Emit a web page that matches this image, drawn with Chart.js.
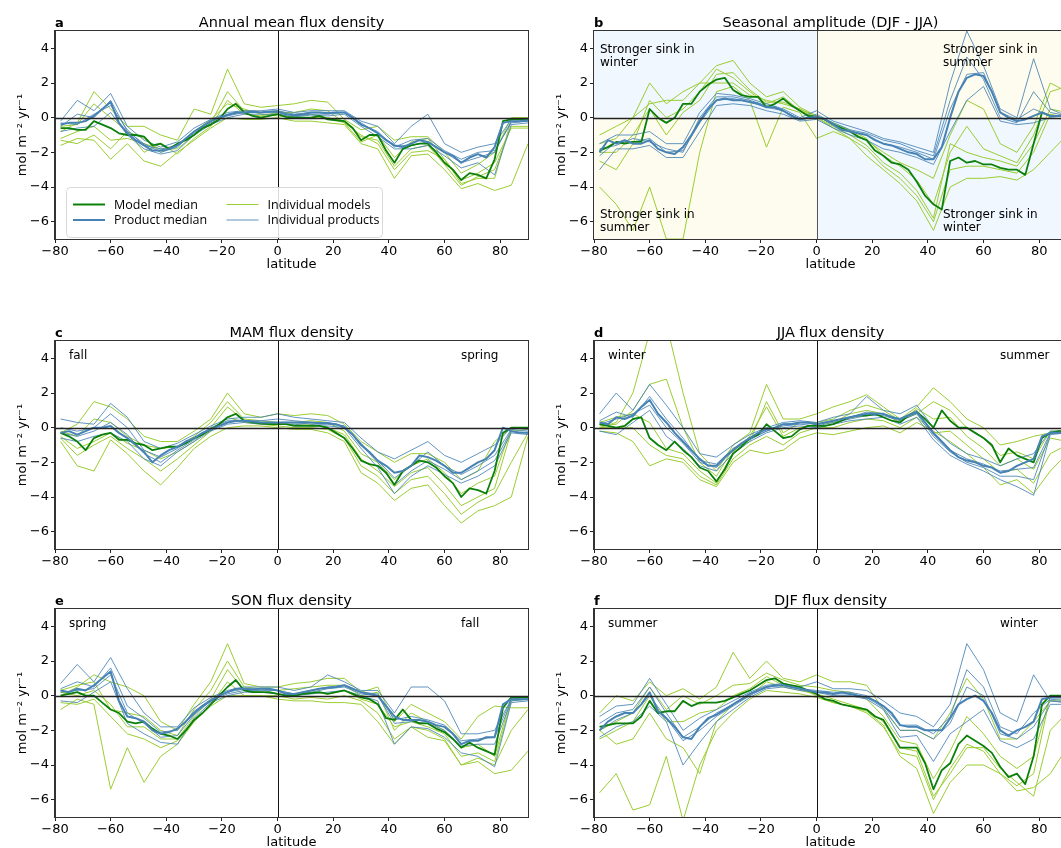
<!DOCTYPE html>
<html>
<head>
<meta charset="utf-8">
<script src="https://cdn.jsdelivr.net/npm/chart.js@4.4.0/dist/chart.umd.min.js"></script>
<style>
  html, body { margin: 0; padding: 0; background: #fff; overflow: hidden; width: 1061px; height: 848px; }
  canvas { position: absolute; }
</style>
</head>
<body>
<canvas id="pa" width="540" height="280" style="left:0px;top:0px"></canvas>
<canvas id="pb" width="540" height="280" style="left:539px;top:0px"></canvas>
<canvas id="pc" width="540" height="280" style="left:0px;top:310px"></canvas>
<canvas id="pd" width="540" height="280" style="left:539px;top:310px"></canvas>
<canvas id="pe" width="540" height="280" style="left:0px;top:578px"></canvas>
<canvas id="pf" width="540" height="280" style="left:539px;top:578px"></canvas>
<script>
// latitude grids: medians every 3 degrees, individual runs every 6 degrees
const LAT_MED = [-78,-75,-72,-69,-66,-63,-60,-57,-54,-51,
  -48,-45,-42,-39,-36,-33,-30,-27,-24,-21,
  -18,-15,-12,-9,-6,-3,0,3,6,9,
  12,15,18,21,24,27,30,33,36,39,
  42,45,48,51,54,57,60,63,66,69,
  72,75,78,81,84,87,90];
const LAT_IND = [-78,-72,-66,-60,-54,-48,-42,-36,-30,-24,
  -18,-12,-6,0,6,12,18,24,30,36,
  42,48,54,60,66,72,78,84,90];
const X_TICKS = [-80,-60,-40,-20,0,20,40,60,80];
const Y_TICKS = [-6,-4,-2,0,2,4];

// a - annual mean
const A_MODEL_MED = [-0.6,-0.6,-0.7,-0.7,-0.2,-0.4,-0.6,-0.9,-1.0,-1.0,
  -1.1,-1.6,-1.5,-1.8,-1.5,-1.3,-1.0,-0.6,-0.4,-0.1,
  0.5,0.8,0.3,0.1,0.0,0.1,0.2,0.05,0.0,0.0,
  0.0,0.1,-0.1,-0.15,-0.2,-0.6,-1.3,-1.0,-1.0,-1.9,
  -2.6,-1.8,-1.6,-1.5,-1.5,-2.0,-2.6,-3.0,-3.6,-3.2,
  -3.3,-3.5,-2.4,-0.2,-0.1,-0.1,-0.1];
const A_PRODUCT_MED = [-0.4,-0.3,-0.3,-0.2,0.1,0.5,0.9,-0.3,-0.9,-1.3,
  -1.6,-1.9,-1.9,-1.8,-1.6,-1.2,-0.8,-0.5,-0.2,0.0,
  0.15,0.3,0.3,0.35,0.3,0.35,0.35,0.2,0.15,0.2,
  0.3,0.3,0.25,0.3,0.3,0.0,-0.4,-0.6,-0.9,-1.3,
  -1.6,-1.7,-1.5,-1.3,-1.4,-1.7,-2.0,-2.2,-2.6,-2.3,
  -2.1,-2.3,-1.7,-0.3,-0.2,-0.2,-0.15];
const A_MODELS = [
  [-0.8,-0.3,1.5,0.5,-0.5,-0.5,-1.0,-1.3,0.5,0.2, 2.8,0.8,0.6,0.7,0.8,1.0,0.9,-0.1,-0.7,-0.5, -1.3,-1.1,-1.1,-2.0,-3.2,-2.7,-2.0,0.0,0.0],
  [-1.6,-1.2,-1.3,-2.4,-1.5,-2.5,-2.8,-2.0,-1.3,-0.6, 0.0,-0.1,-0.1,0.0,-0.2,-0.2,-0.3,-0.4,-1.5,-1.8, -3.5,-2.2,-2.1,-3.0,-4.1,-3.8,-4.2,-3.9,-1.5],
  [-1.2,-0.8,-0.5,-1.3,-1.2,-1.5,-1.8,-1.8,-1.0,-0.3, 1.5,0.4,0.3,0.4,0.1,0.2,0.0,-0.2,-1.1,-1.3, -2.8,-1.8,-1.6,-2.7,-3.9,-3.4,-3.0,-0.5,-0.5],
  [-0.5,-0.4,0.8,0.0,-0.8,-1.2,-2.0,-1.6,-0.8,-0.1, 0.8,0.5,0.2,0.1,0.0,0.0,0.0,-0.3,-1.4,-1.0, -2.3,-1.4,-1.2,-2.4,-3.8,-3.5,-3.5,-0.1,-0.1],
  [-1.3,-1.5,-1.0,-1.8,-0.8,-2.0,-1.5,-2.1,-1.2,-0.5, 1.0,0.2,0.1,0.3,0.3,0.5,0.4,-0.3,-1.0,-1.5, -3.0,-2.0,-1.9,-2.4,-3.6,-3.2,-2.6,-0.6,-0.6]
];
const A_PRODUCTS = [
  [-0.2,1.0,0.4,1.4,-0.5,-1.3,-1.7,-1.4,-0.6,-0.1, 0.3,0.4,0.4,0.5,0.3,0.4,0.4,0.4,-0.2,-0.5, -1.5,-0.5,0.2,-1.5,-2.0,-1.7,-1.5,-0.1,-0.1],
  [-0.8,-0.6,-0.5,0.3,-1.0,-1.8,-2.1,-1.9,-1.0,-0.4, 0.0,0.2,0.2,0.2,0.05,0.15,0.1,0.2,-0.5,-1.1, -1.8,-1.8,-1.6,-2.2,-2.9,-2.6,-3.3,-0.4,-0.3],
  [-0.5,0.2,0.0,1.0,-0.8,-1.5,-2.0,-1.7,-0.8,-0.2, 0.2,0.3,0.3,0.4,0.2,0.3,0.3,0.3,-0.4,-0.8, -1.7,-1.3,-1.2,-1.9,-2.4,-2.0,-1.9,-0.3,-0.2],
  [-0.3,-0.4,0.2,0.7,-0.7,-1.6,-1.8,-1.6,-0.9,-0.3, 0.1,0.3,0.3,0.3,0.1,0.2,0.2,0.3,-0.3,-0.9, -1.6,-1.6,-1.4,-2.0,-2.6,-2.3,-2.0,-0.2,-0.2]
];

// b - seasonal amplitude (DJF - JJA)
const B_MODEL_MED = [-1.9,-1.7,-1.4,-1.5,-1.4,-1.4,0.5,0.0,-0.3,0.0,
  0.8,0.8,1.5,1.9,2.2,2.3,1.6,1.3,1.2,1.2,
  0.6,0.8,1.1,0.7,0.4,0.1,0.05,-0.1,-0.4,-0.6,
  -0.8,-1.1,-1.3,-1.9,-2.2,-2.6,-2.7,-3.0,-3.7,-4.5,
  -5.0,-5.3,-2.5,-2.3,-2.6,-2.5,-2.7,-2.7,-2.9,-3.0,
  -3.0,-3.3,-1.5,0.3,0.1,0.1,0.1];
const B_PRODUCT_MED = [-2.0,-1.3,-1.5,-1.3,-1.5,-1.5,-1.3,-1.8,-2.0,-2.1,
  -1.7,-1.0,-0.2,0.5,1.0,1.1,1.0,1.0,0.9,0.8,
  0.6,0.6,0.4,0.1,-0.1,0.0,0.05,-0.1,-0.4,-0.7,
  -0.8,-0.9,-1.0,-1.3,-1.5,-1.6,-1.8,-2.0,-2.1,-2.4,
  -2.4,-1.7,0.0,1.5,2.3,2.5,2.4,1.5,0.3,0.0,
  -0.2,-0.1,0.1,0.3,0.1,0.1,0.1];
const B_MODELS = [
  [-1.0,-0.5,0.0,2.0,0.8,1.5,2.0,3.0,3.3,2.0, 1.2,1.5,0.6,0.1,-0.4,-0.8,-1.3,-2.0,-2.6,-3.0, -3.5,-1.0,1.0,0.5,-1.5,-2.0,-0.5,2.0,1.5],
  [-4.0,-5.0,-6.5,-4.0,-7.0,-7.0,-2.0,1.5,1.8,1.0, -1.7,0.6,0.3,-1.2,-0.8,-1.2,-2.2,-3.0,-3.8,-4.8, -6.5,-4.0,-3.5,-3.5,-3.4,-3.6,-3.0,-2.0,-1.0],
  [-2.0,-2.0,-1.0,0.5,-1.0,0.3,1.0,2.5,2.6,1.6, 0.9,0.9,0.5,0.0,-0.5,-1.0,-1.6,-2.6,-3.2,-4.2, -5.8,-1.5,-2.0,-2.3,-2.5,-2.8,-1.5,0.5,0.3],
  [-2.5,-3.0,-1.5,1.0,0.0,0.5,1.5,2.8,2.3,1.5, 0.8,1.2,0.4,0.0,-0.6,-1.2,-1.8,-2.8,-3.5,-4.5, -6.0,-3.0,-2.8,-2.8,-3.0,-3.2,-2.0,0.2,0.0],
  [-1.5,-1.2,0.0,0.8,1.0,1.0,2.0,2.0,2.0,1.3, 1.0,0.8,0.5,0.1,-0.3,-0.7,-1.2,-2.2,-2.8,-3.6, -5.0,-2.0,-0.5,-1.8,-2.2,-2.6,-1.0,1.5,1.8]
];
const B_PRODUCTS = [
  [-1.5,-1.0,-1.0,-0.8,-1.5,-1.5,0.3,1.4,1.3,1.1, 0.8,0.5,0.0,0.4,-0.2,-0.5,-0.8,-1.2,-1.4,-1.7, -2.0,2.0,5.0,3.0,0.5,0.0,3.4,0.5,0.1],
  [-3.0,-1.8,-1.8,-1.6,-2.3,-2.3,-0.8,0.7,0.8,0.7, 0.4,0.2,-0.2,-0.1,-0.6,-1.0,-1.3,-1.8,-2.0,-2.3, -2.7,-0.8,1.0,1.8,-0.2,-0.4,-0.3,0.0,-0.1],
  [-2.2,-1.4,-1.4,-1.2,-2.0,-1.9,-0.3,1.0,1.1,0.9, 0.6,0.4,-0.1,0.1,-0.4,-0.8,-1.0,-1.5,-1.7,-2.0, -2.4,0.5,2.5,2.6,0.3,-0.1,0.5,0.1,0.1],
  [-1.8,-1.6,-1.2,-1.4,-1.8,-2.0,0.0,1.2,1.2,1.0, 0.7,0.4,-0.1,0.2,-0.3,-0.7,-0.9,-1.3,-1.5,-1.9, -2.2,1.0,3.5,2.2,0.0,-0.3,1.5,0.3,0.1]
];

// c - MAM
const C_MODEL_MED = [-0.3,-0.5,-0.8,-1.3,-0.6,-0.4,-0.3,-0.7,-0.7,-0.9,
  -1.0,-1.3,-1.2,-1.1,-1.1,-0.9,-0.6,-0.4,-0.1,0.2,
  0.6,0.8,0.4,0.3,0.25,0.2,0.2,0.2,0.1,0.1,
  0.1,0.1,0.0,-0.3,-0.6,-1.2,-1.9,-2.1,-2.2,-2.6,
  -3.3,-2.5,-2.2,-1.9,-2.0,-2.3,-2.8,-3.2,-4.0,-3.5,
  -3.6,-3.8,-2.5,-0.3,0.0,0.0,0.0];
const C_PRODUCT_MED = [-0.3,-0.2,-0.4,-0.2,0.0,0.0,0.1,-0.3,-0.6,-1.0,
  -1.4,-2.0,-1.6,-1.3,-1.1,-0.8,-0.6,-0.3,-0.1,0.1,
  0.3,0.4,0.4,0.35,0.3,0.3,0.3,0.3,0.3,0.3,
  0.3,0.25,0.25,0.2,0.0,-0.4,-1.0,-1.4,-1.9,-2.2,
  -2.6,-2.5,-2.2,-1.6,-1.7,-1.9,-2.2,-2.6,-2.6,-2.3,
  -2.0,-1.8,-1.3,0.0,-0.2,-0.3,-0.3];
const C_MODELS = [
  [-0.3,0.2,1.5,1.2,0.5,-0.5,-0.8,-0.8,-0.2,0.5, 2.0,0.8,0.6,0.8,0.7,0.8,0.7,0.2,-0.8,-1.4, -2.0,-1.5,-1.5,-2.0,-3.0,-2.5,-0.8,0.0,0.0],
  [-0.8,-2.2,-2.5,-0.7,-1.5,-2.5,-3.3,-2.3,-1.2,-0.5, 0.0,0.1,0.1,0.0,-0.1,-0.1,-0.3,-0.8,-2.6,-3.2, -4.2,-3.5,-3.3,-4.5,-5.5,-4.8,-4.5,-4.0,-0.5],
  [-0.5,-1.2,-0.8,-0.3,-0.9,-1.3,-1.8,-1.4,-0.8,0.0, 1.2,0.4,0.3,0.2,0.2,0.2,0.0,-0.4,-1.8,-2.5, -3.4,-2.6,-2.3,-3.3,-4.5,-4.0,-3.5,-0.2,-0.1],
  [-0.2,-0.5,0.5,0.3,-0.5,-1.0,-1.2,-1.1,-0.5,0.3, 1.5,0.5,0.4,0.3,0.3,0.4,0.3,-0.2,-1.5,-2.0, -3.0,-2.2,-1.8,-2.6,-3.8,-3.2,-2.8,0.0,0.0],
  [-0.6,-1.6,-1.0,-0.5,-1.2,-1.8,-2.5,-1.8,-1.0,-0.2, 0.6,0.3,0.2,0.1,0.0,0.0,-0.1,-0.6,-2.2,-2.8, -3.8,-3.0,-2.8,-3.8,-5.0,-4.3,-3.8,-2.0,-0.3]
];
const C_PRODUCTS = [
  [0.5,0.3,0.2,1.4,0.6,-0.8,-1.2,-0.9,-0.4,0.1, 0.5,0.6,0.6,0.8,0.6,0.5,0.4,0.3,-0.6,-1.4, -1.8,-1.3,-0.8,-1.6,-2.0,-1.5,-1.0,0.0,-0.1],
  [-0.6,-0.8,-0.5,-0.3,-0.8,-1.8,-2.2,-1.4,-0.8,-0.2, 0.2,0.3,0.2,0.2,0.2,0.1,0.1,0.0,-1.2,-2.3, -3.8,-2.8,-2.2,-2.7,-3.2,-2.8,-2.2,-0.3,-0.4],
  [0.0,-0.2,0.0,0.8,0.0,-1.3,-1.7,-1.2,-0.6,0.0, 0.4,0.4,0.4,0.5,0.4,0.3,0.3,0.1,-0.9,-1.9, -2.9,-2.2,-1.4,-2.2,-2.7,-2.2,-1.6,-0.1,-0.2],
  [-0.3,-0.5,-0.2,0.3,-0.4,-1.5,-2.0,-1.3,-0.7,-0.1, 0.3,0.4,0.3,0.3,0.3,0.2,0.2,0.1,-1.0,-2.0, -3.3,-2.5,-1.9,-2.4,-3.0,-2.5,-1.9,-0.2,-0.3]
];

// d - JJA
const D_MODEL_MED = [0.2,0.1,0.0,0.1,0.5,0.6,-0.6,-1.0,-1.3,-0.8,
  -1.3,-1.7,-2.3,-2.5,-3.1,-2.4,-1.5,-1.1,-0.6,-0.4,
  0.2,-0.2,-0.6,-0.5,-0.1,0.1,0.1,0.1,0.2,0.4,
  0.6,0.7,0.7,0.8,0.6,0.4,0.3,0.7,0.9,0.5,
  0.0,1.0,0.4,0.0,0.0,-0.3,-0.6,-1.0,-2.0,-1.2,
  -1.6,-1.8,-2.0,-0.6,-0.3,-0.2,-0.2];
const D_PRODUCT_MED = [0.3,0.2,0.6,0.5,0.7,1.2,1.6,0.8,0.3,-0.3,
  -0.8,-1.3,-1.8,-2.2,-2.2,-1.7,-1.3,-0.9,-0.6,-0.3,
  -0.1,0.0,0.2,0.2,0.3,0.3,0.2,0.3,0.4,0.5,
  0.6,0.7,0.8,0.8,0.8,0.6,0.5,0.7,0.9,0.3,
  -0.3,-0.8,-1.3,-1.7,-1.9,-2.0,-2.2,-2.3,-2.6,-2.5,
  -2.2,-2.0,-1.8,-0.5,-0.3,-0.3,-0.25];
const D_MODELS = [
  [0.0,0.3,2.0,5.5,6.0,2.0,-1.5,-2.5,-1.0,-0.3, 2.5,0.5,0.5,0.8,1.2,1.5,1.9,1.2,0.5,1.2, 2.3,1.5,0.5,0.0,-1.0,-0.8,-0.5,-0.3,-0.3],
  [-0.2,-0.3,-0.8,-2.2,-1.8,-2.0,-3.0,-3.4,-2.0,-1.3, -1.5,-1.3,-0.6,-0.3,-0.4,-0.2,0.0,0.1,-0.3,0.3, -0.2,-0.8,-1.5,-2.3,-3.3,-3.0,-3.8,-2.5,-1.5],
  [0.3,0.6,0.8,0.3,-1.2,-1.5,-2.5,-3.2,-1.4,-0.5, 1.2,-0.5,0.0,0.2,0.3,0.8,1.0,0.8,0.3,1.1, 0.5,0.6,-0.5,-1.2,-2.2,-1.8,-2.4,-0.6,-0.8],
  [0.1,0.2,1.0,2.5,2.8,0.0,-2.0,-2.8,-1.2,-0.8, 1.5,-0.3,0.3,0.3,0.5,1.0,1.3,1.0,0.4,0.8, 1.5,1.0,0.0,-0.6,-1.6,-1.4,-1.8,-0.2,-0.2],
  [0.0,0.0,0.0,-1.0,-1.6,-1.8,-2.8,-3.3,-1.8,-1.0, -0.5,-1.0,-0.3,0.0,0.0,0.3,0.5,0.4,0.0,0.6, -0.3,-0.2,-1.0,-1.8,-2.6,-2.4,-3.2,-1.5,-1.0]
];
const D_PRODUCTS = [
  [0.8,2.0,1.0,2.5,1.3,0.0,-1.5,-1.7,-1.0,-0.4, 0.0,0.3,0.4,0.3,0.6,0.8,1.8,1.0,0.8,1.3, 0.0,-0.9,-1.5,-1.8,-2.2,-1.8,-1.5,-0.2,-0.2],
  [-0.2,-0.4,0.3,1.0,-0.5,-1.2,-2.2,-2.5,-1.5,-0.8, -0.3,0.0,0.1,0.0,0.2,0.4,0.5,0.6,0.2,0.6, -0.7,-1.6,-2.1,-2.5,-3.0,-3.4,-3.9,-0.4,-0.3],
  [0.4,0.9,0.6,1.8,0.5,-0.6,-1.9,-2.1,-1.2,-0.6, -0.2,0.2,0.3,0.2,0.4,0.6,0.9,0.8,0.5,1.0, -0.4,-1.3,-1.8,-2.1,-2.5,-2.4,-2.3,-0.3,-0.3],
  [0.2,0.5,0.8,1.3,0.0,-0.9,-2.0,-2.3,-1.3,-0.7, -0.2,0.1,0.2,0.1,0.3,0.5,0.7,0.7,0.4,0.8, -0.5,-1.4,-2.0,-2.3,-2.8,-2.8,-3.0,-0.3,-0.3]
];

// e - SON
const E_MODEL_MED = [0.0,0.1,0.2,0.0,0.0,-0.4,-0.8,-1.0,-1.5,-1.6,
  -1.5,-1.9,-2.2,-2.3,-2.5,-2.0,-1.4,-1.0,-0.5,0.0,
  0.5,0.9,0.3,0.2,0.2,0.2,0.1,0.0,0.0,0.1,
  0.15,0.2,0.1,0.2,0.3,0.1,-0.1,-0.2,-0.5,-1.3,
  -1.4,-0.8,-1.4,-1.6,-1.6,-1.9,-2.1,-2.5,-3.0,-2.7,
  -3.0,-3.2,-3.4,-0.7,-0.1,-0.1,-0.1];
const E_PRODUCT_MED = [0.3,0.2,0.4,0.3,0.6,1.0,1.4,-0.3,-1.2,-1.3,
  -1.5,-2.0,-2.2,-2.1,-1.9,-1.5,-1.0,-0.6,-0.3,0.0,
  0.2,0.4,0.4,0.35,0.4,0.4,0.3,0.1,0.1,0.2,
  0.3,0.4,0.45,0.5,0.6,0.4,0.2,0.1,0.0,-0.6,
  -1.2,-1.4,-1.4,-1.4,-1.5,-1.7,-1.8,-2.2,-2.8,-2.6,
  -2.6,-2.4,-2.4,-0.5,-0.2,-0.2,-0.2];
const E_MODELS = [
  [0.0,0.5,1.2,0.8,0.5,0.0,-1.5,-2.0,-0.5,0.8, 3.0,0.7,0.5,0.5,0.7,0.8,1.0,1.0,0.2,0.5, -1.5,-0.5,-1.0,-1.5,-2.5,-1.2,-0.6,-0.7,-0.7],
  [-0.8,-0.2,-0.5,-5.4,-3.0,-5.0,-3.5,-2.8,-1.5,-0.6, 0.0,0.0,0.0,-0.2,-0.3,-0.3,-0.4,-0.4,-0.5,-1.5, -2.8,-1.8,-2.4,-2.6,-4.0,-3.8,-4.5,-4.3,-3.2],
  [0.2,0.0,0.3,-0.5,-1.8,-1.8,-2.5,-2.5,-1.2,-0.2, 1.5,0.3,0.2,0.1,0.0,0.2,0.1,0.3,-0.2,-0.5, -1.8,-1.5,-1.8,-2.2,-3.5,-3.3,-3.8,-0.3,-0.2],
  [0.3,0.6,0.8,-0.8,-1.0,-1.2,-2.0,-2.3,-0.8,0.3, 2.0,0.5,0.4,0.3,0.4,0.5,0.6,0.6,0.0,0.2, -2.0,-1.0,-1.5,-2.0,-3.0,-2.8,-3.5,-0.1,-0.1],
  [-0.4,-0.5,-0.2,-1.2,-2.2,-2.5,-3.0,-2.6,-1.5,-0.5, 0.8,0.0,0.0,0.0,-0.2,-0.1,-0.2,0.0,-0.3,-1.0, -2.5,-1.8,-2.0,-2.5,-4.0,-3.6,-4.0,-2.0,-0.8]
];
const E_PRODUCTS = [
  [0.7,1.8,0.8,2.2,0.4,-1.0,-1.8,-1.8,-0.7,-0.1, 0.3,0.5,0.5,0.5,0.3,0.5,1.2,0.8,0.3,0.3, -1.0,0.5,0.5,-0.3,-2.2,-2.2,-2.0,-0.2,-0.1],
  [-0.3,-0.4,0.2,0.8,-1.6,-2.2,-2.7,-2.8,-1.3,-0.4, 0.0,0.2,0.2,0.1,0.0,0.1,0.2,0.3,0.0,-0.3, -2.8,-1.8,-1.9,-2.4,-3.3,-3.5,-4.1,-0.4,-0.3],
  [0.4,0.8,0.5,1.6,-0.6,-1.3,-2.1,-2.0,-0.9,-0.2, 0.2,0.4,0.4,0.3,0.1,0.3,0.5,0.6,0.2,0.1, -1.4,-1.2,-1.4,-1.7,-2.6,-2.5,-2.4,-0.2,-0.2],
  [0.2,0.3,0.4,1.2,-1.0,-1.6,-2.4,-2.3,-1.1,-0.3, 0.1,0.3,0.3,0.3,0.1,0.2,0.4,0.5,0.1,0.0, -1.6,-1.5,-1.6,-2.0,-2.9,-2.8,-2.8,-0.3,-0.2]
];

// f - DJF
const F_MODEL_MED = [-1.8,-1.7,-1.6,-1.6,-1.6,-1.2,-0.3,-1.0,-0.9,-0.9,
  -0.3,-0.6,-0.4,-0.4,-0.4,-0.3,-0.1,0.1,0.3,0.6,
  0.9,1.0,0.7,0.6,0.5,0.3,0.1,-0.2,-0.3,-0.5,
  -0.6,-0.7,-0.8,-1.2,-1.4,-2.2,-3.0,-3.0,-3.0,-3.9,
  -5.4,-4.3,-3.9,-2.8,-2.3,-2.6,-2.9,-3.3,-4.1,-4.7,
  -4.5,-5.1,-3.5,-0.5,0.0,0.0,0.0];
const F_PRODUCT_MED = [-2.0,-1.5,-1.2,-1.0,-1.0,-0.5,0.2,-0.9,-1.3,-1.8,
  -2.4,-2.5,-1.8,-1.3,-1.1,-0.8,-0.5,-0.2,0.1,0.3,
  0.5,0.6,0.6,0.5,0.4,0.3,0.2,0.2,0.1,0.2,
  0.1,0.0,-0.1,-0.3,-0.6,-1.0,-1.7,-1.8,-1.8,-2.0,
  -2.0,-2.0,-1.3,-0.5,-0.2,0.0,-0.3,-1.0,-2.0,-2.3,
  -2.0,-1.8,-1.5,-0.2,-0.1,-0.1,-0.1];
const F_MODELS = [
  [-1.0,0.0,-0.3,0.8,0.0,0.4,-0.2,0.5,2.5,1.0, 2.0,1.0,0.8,1.2,0.8,0.8,0.6,-0.8,-2.0,-2.0, -2.5,-1.0,1.0,-0.2,-2.5,-2.5,-1.5,-0.3,-0.2],
  [-5.6,-4.5,-6.6,-6.3,-3.5,-7.2,-4.0,-2.0,-1.0,-0.2, 0.3,0.2,0.1,-0.1,-0.4,-0.6,-0.9,-1.7,-3.5,-4.2, -6.8,-5.0,-4.0,-4.0,-4.5,-5.5,-5.3,-4.5,-3.0],
  [-2.5,-2.0,-1.5,0.0,-1.5,-1.5,-1.0,-0.8,0.0,0.4, 1.1,0.6,0.4,0.0,-0.4,-0.6,-1.0,-1.8,-3.3,-3.5, -6.0,-4.2,-2.8,-3.2,-4.5,-5.2,-4.5,0.0,-0.1],
  [-2.0,-1.5,-1.0,0.5,-0.8,0.0,-0.5,0.0,0.6,0.7, 1.3,0.9,0.6,0.5,0.3,0.2,-0.2,-1.2,-2.6,-2.8, -4.8,-3.2,-1.2,-2.2,-3.5,-4.2,-3.5,0.0,0.0],
  [-2.0,-2.8,-2.5,-1.0,-2.5,-3.0,-4.5,-1.5,-0.5,0.0, 0.8,0.5,0.3,0.1,-0.2,-0.5,-0.8,-1.5,-3.0,-3.2, -5.8,-4.5,-3.0,-3.0,-4.2,-5.0,-5.8,-2.0,-1.0]
];
const F_PRODUCTS = [
  [-1.2,-0.6,-0.5,1.0,-0.5,-2.0,-1.3,-0.8,-0.3,0.2, 0.6,0.7,0.5,0.8,0.4,0.4,0.3,-0.3,-1.0,-1.2, -1.8,-0.5,3.0,1.5,-1.0,-1.5,1.2,-0.3,-0.4],
  [-2.4,-1.8,-1.5,-0.6,-1.5,-4.0,-2.7,-1.5,-0.8,-0.1, 0.4,0.5,0.3,0.2,0.0,0.0,-0.2,-0.8,-2.4,-2.3, -3.8,-2.2,-1.5,-0.8,-2.6,-3.0,-2.5,-0.5,-0.5],
  [-1.6,-1.0,-0.8,0.5,-1.0,-2.4,-1.8,-1.0,-0.5,0.1, 0.5,0.6,0.4,0.3,0.2,0.2,0.0,-0.6,-1.7,-1.7, -2.2,-1.2,1.5,0.5,-1.8,-2.2,-1.0,-0.2,-0.3],
  [-2.0,-1.4,-1.0,0.0,-1.3,-2.6,-2.0,-1.2,-0.6,0.0, 0.5,0.6,0.4,0.2,0.1,0.1,-0.1,-0.7,-2.0,-2.0, -2.5,-1.6,0.5,0.0,-2.2,-2.5,-1.8,-0.3,-0.4]
];

const COL_MODEL = '#9acd32';
const COL_MODEL_MED = '#0a800a';
const COL_PRODUCT = 'rgba(70,130,180,0.85)';
const COL_PRODUCT_MED = '#4682b4';
const BG_BLUE = '#f0f7fe';
const BG_YELLOW = '#fefcef';
const FONT = 'DejaVu Sans';

Chart.defaults.font.family = FONT;
Chart.defaults.color = '#000';

const fmt = v => String(v).replace('-', '\u2212');
const pts = (lat, vals) => lat.map((x, i) => ({x: x, y: vals[i]}));

function makeDatasets(modMed, prodMed, models, products) {
  const ds = [];
  models.forEach(m => ds.push({data: pts(LAT_IND, m), borderColor: COL_MODEL, borderWidth: 1, order: 4}));
  products.forEach(p => ds.push({data: pts(LAT_IND, p), borderColor: COL_PRODUCT, borderWidth: 1, order: 3}));
  ds.push({data: pts(LAT_MED, modMed), borderColor: COL_MODEL_MED, borderWidth: 1.8, order: 2});
  ds.push({data: pts(LAT_MED, prodMed), borderColor: COL_PRODUCT_MED, borderWidth: 2, order: 1});
  return ds;
}

// titles, panel letters, notes, zero lines, legend and frame
const panelDeco = {
  id: 'panelDeco',
  beforeDatasetsDraw(chart, args, o) {
    if (!o.quadrants) return;
    const {ctx, chartArea: ca, scales: {x, y}} = chart;
    const x0 = x.getPixelForValue(0), y0 = y.getPixelForValue(0);
    ctx.save();
    ctx.fillStyle = BG_BLUE;
    ctx.fillRect(ca.left, ca.top, x0 - ca.left, y0 - ca.top);
    ctx.fillRect(x0, y0, ca.right - x0, ca.bottom - y0);
    ctx.fillStyle = BG_YELLOW;
    ctx.fillRect(ca.left, y0, x0 - ca.left, ca.bottom - y0);
    ctx.fillRect(x0, ca.top, ca.right - x0, y0 - ca.top);
    ctx.restore();
  },
  afterDatasetsDraw(chart, args, o) {
    const {ctx, chartArea: ca, scales: {x, y}} = chart;
    const x0 = Math.round(x.getPixelForValue(0)) + 0.5;
    const y0 = Math.round(y.getPixelForValue(0)) + 0.5;
    ctx.save();
    ctx.lineWidth = 1;
    ctx.strokeStyle = o.quadrants ? '#555' : '#111';
    ctx.beginPath(); ctx.moveTo(x0, ca.top); ctx.lineTo(x0, ca.bottom); ctx.stroke();
    ctx.strokeStyle = '#222';
    ctx.lineWidth = 1.3;
    ctx.beginPath(); ctx.moveTo(ca.left, y0); ctx.lineTo(ca.right, y0); ctx.stroke();

    ctx.fillStyle = '#000';
    ctx.font = '12px ' + FONT;
    ctx.textAlign = 'left';
    ctx.textBaseline = 'alphabetic';
    (o.notes || []).forEach(n => {
      n.lines.forEach((t, i) => ctx.fillText(t, ca.left + n.dx, ca.top + n.dy + i * 13.5));
    });

    if (o.legend) {
      const bx = ca.left + 11.5, by = ca.top + 156.5, bw = 316, bh = 50;
      ctx.fillStyle = 'rgba(255,255,255,0.85)';
      ctx.strokeStyle = '#d8d8d8';
      ctx.lineWidth = 1;
      ctx.beginPath();
      ctx.roundRect(bx, by, bw, bh, 4);
      ctx.fill(); ctx.stroke();
      const items = [
        {label: 'Model median', color: COL_MODEL_MED, w: 2, col: 0, row: 0},
        {label: 'Product median', color: COL_PRODUCT_MED, w: 2, col: 0, row: 1},
        {label: 'Individual models', color: COL_MODEL, w: 1.2, col: 1, row: 0},
        {label: 'Individual products', color: COL_PRODUCT, w: 1.2, col: 1, row: 1}
      ];
      ctx.font = '12.5px "Open Sans"';
      ctx.textBaseline = 'middle';
      items.forEach(it => {
        const hx = bx + 6.5 + it.col * 153.5;
        const hy = by + 17 + it.row * 15.5;
        ctx.strokeStyle = it.color;
        ctx.lineWidth = it.w;
        ctx.beginPath(); ctx.moveTo(hx, hy); ctx.lineTo(hx + 32, hy); ctx.stroke();
        ctx.fillStyle = '#000';
        ctx.fillText(it.label, hx + 41, hy + 0.5);
      });
    }
    ctx.restore();
  },
  afterDraw(chart, args, o) {
    const {ctx, chartArea: ca} = chart;
    ctx.save();
    ctx.strokeStyle = '#333';
    ctx.lineWidth = 1;
    ctx.strokeRect(Math.round(ca.left) - 0.5, Math.round(ca.top) - 0.5,
      Math.round(ca.right - ca.left) + 1, Math.round(ca.bottom - ca.top) + 1);
    ctx.fillStyle = '#000';
    ctx.textBaseline = 'alphabetic';
    ctx.font = '14.5px ' + FONT;
    ctx.textAlign = 'center';
    ctx.fillText(o.title, (ca.left + ca.right) / 2, ca.top - 4.5);
    ctx.font = 'bold 13px ' + FONT;
    ctx.textAlign = 'left';
    ctx.fillText(o.letter, ca.left, ca.top - 4);
    ctx.restore();
  }
};

const SEASON_NOTE = (left, right) => [
  {lines: [left], dx: 14, dy: 18},
  {lines: [right], dx: 406, dy: 18}
];

const PANELS = [
  {id: 'pa', letter: 'a', title: 'Annual mean flux density', xTitle: true, legend: true,
    ds: makeDatasets(A_MODEL_MED, A_PRODUCT_MED, A_MODELS, A_PRODUCTS), notes: []},
  {id: 'pb', letter: 'b', title: 'Seasonal amplitude (DJF - JJA)', xTitle: true, quadrants: true,
    ds: makeDatasets(B_MODEL_MED, B_PRODUCT_MED, B_MODELS, B_PRODUCTS),
    notes: [
      {lines: ['Stronger sink in', 'winter'], dx: 6, dy: 21.5},
      {lines: ['Stronger sink in', 'summer'], dx: 349, dy: 21.5},
      {lines: ['Stronger sink in', 'summer'], dx: 6, dy: 186.5},
      {lines: ['Stronger sink in', 'winter'], dx: 349, dy: 186.5}
    ]},
  {id: 'pc', letter: 'c', title: 'MAM flux density', xTitle: false,
    ds: makeDatasets(C_MODEL_MED, C_PRODUCT_MED, C_MODELS, C_PRODUCTS), notes: SEASON_NOTE('fall', 'spring')},
  {id: 'pd', letter: 'd', title: 'JJA flux density', xTitle: false,
    ds: makeDatasets(D_MODEL_MED, D_PRODUCT_MED, D_MODELS, D_PRODUCTS), notes: SEASON_NOTE('winter', 'summer')},
  {id: 'pe', letter: 'e', title: 'SON flux density', xTitle: true,
    ds: makeDatasets(E_MODEL_MED, E_PRODUCT_MED, E_MODELS, E_PRODUCTS), notes: SEASON_NOTE('spring', 'fall')},
  {id: 'pf', letter: 'f', title: 'DJF flux density', xTitle: true,
    ds: makeDatasets(F_MODEL_MED, F_PRODUCT_MED, F_MODELS, F_PRODUCTS), notes: SEASON_NOTE('summer', 'winter')}
];

PANELS.forEach(p => {
  new Chart(document.getElementById(p.id), {
    type: 'line',
    data: {datasets: p.ds},
    plugins: [panelDeco],
    options: {
      responsive: false,
      animation: false,
      devicePixelRatio: 1,
      events: [],
      layout: {padding: {top: 31, right: 12, left: 0, bottom: 0}},
      elements: {
        point: {radius: 0},
        line: {tension: 0, borderJoinStyle: 'round', fill: false}
      },
      scales: {
        x: {
          type: 'linear', min: -80, max: 90,
          afterBuildTicks: s => { s.ticks = X_TICKS.map(v => ({value: v})); },
          afterFit: s => { s.height = 41; },
          grid: {drawOnChartArea: false, tickLength: 4, color: '#222'},
          border: {color: '#333'},
          ticks: {font: {size: 13}, padding: 1, maxRotation: 0, autoSkip: false, callback: fmt},
          title: {display: p.xTitle, text: 'latitude', font: {size: 13}, padding: {top: 0, bottom: 7.2}}
        },
        y: {
          type: 'linear', min: -7, max: 5,
          afterBuildTicks: s => { s.ticks = Y_TICKS.map(v => ({value: v})); },
          afterFit: s => { s.width = 55; },
          grid: {drawOnChartArea: false, tickLength: 4, color: '#222'},
          border: {color: '#333'},
          ticks: {font: {size: 13}, padding: 2, autoSkip: false, callback: fmt},
          title: {display: true, text: 'mol m\u207b\u00b2 yr\u207b\u00b9', font: {size: 13}, padding: {top: 14.7, bottom: 0}}
        }
      },
      plugins: {
        legend: {display: false},
        tooltip: {enabled: false},
        panelDeco: {title: p.title, letter: p.letter, notes: p.notes, legend: !!p.legend, quadrants: !!p.quadrants}
      }
    }
  });
});
</script>
</body>
</html>
